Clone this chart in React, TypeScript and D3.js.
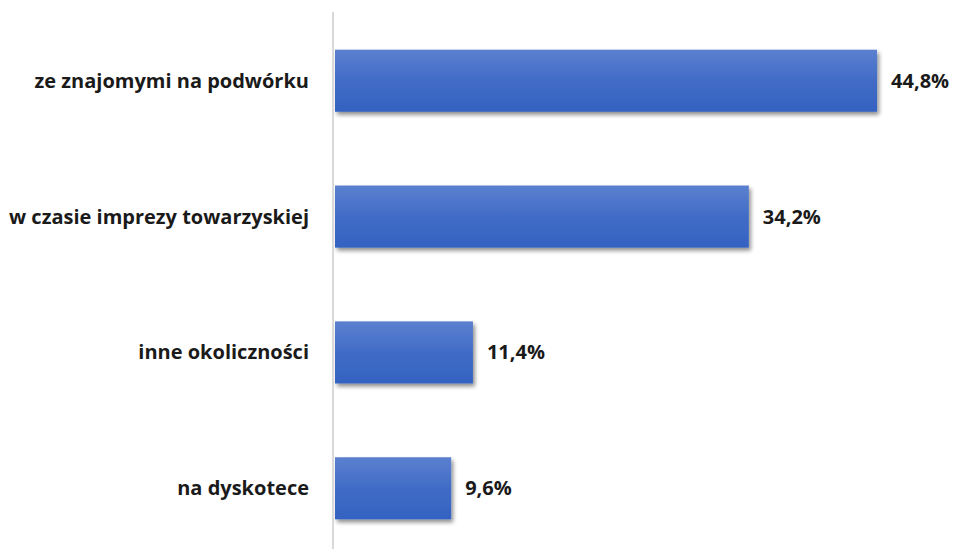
import React from "react";
import * as d3 from "d3";

const categories = [
  "ze znajomymi na podwórku",
  "w czasie imprezy towarzyskiej",
  "inne okoliczności",
  "na dyskotece",
];
const values = [44.8, 34.2, 11.4, 9.6];
const valueLabels = ["44,8%", "34,2%", "11,4%", "9,6%"];

const W = 955;
const H = 549;

export default function App() {
  const x = d3.scaleLinear().domain([0, 50]).range([335, 940]);
  const y = d3
    .scaleBand<string>()
    .domain(categories)
    .range([13, 556])
    .paddingInner(0.543)
    .paddingOuter(0.27);
  const font = "'Open Sans', 'Noto Sans', sans-serif";
  return (
    <svg
      width={W}
      height={H}
      style={{ position: "absolute", left: 0, top: 0, background: "#fff" }}
    >
      <defs>
        <linearGradient id="barGrad" x1="0" y1="0" x2="0" y2="1">
          <stop offset="0%" stopColor="#5b80cf" />
          <stop offset="50%" stopColor="#416cc6" />
          <stop offset="100%" stopColor="#3462c1" />
        </linearGradient>
        <filter id="shadow" x="-5%" y="-10%" width="115%" height="140%">
          <feGaussianBlur in="SourceAlpha" stdDeviation="2" />
          <feOffset dx="2" dy="3" result="ob" />
          <feComponentTransfer>
            <feFuncA type="linear" slope="0.45" />
          </feComponentTransfer>
          <feMerge>
            <feMergeNode />
            <feMergeNode in="SourceGraphic" />
          </feMerge>
        </filter>
      </defs>
      <rect x={0} y={0} width={W} height={H} fill="#fff" />
      {categories.map((c, i) => {
        const y0 = y(c)!;
        const bw = y.bandwidth();
        return (
          <g key={c}>
            <rect
              x={x(0)}
              y={y0}
              width={x(values[i]) - x(0)}
              height={bw}
              fill="url(#barGrad)"
              filter="url(#shadow)"
            />
            <text
              x={309}
              y={y0 + bw / 2}
              dy="0.35em"
              textAnchor="end"
              fontFamily={font}
              fontWeight={700}
              fontSize={20}
              fill="#1a1a1a"
            >
              {c}
            </text>
            <text
              x={x(values[i]) + 14}
              y={y0 + bw / 2}
              dy="0.35em"
              textAnchor="start"
              fontFamily={font}
              fontWeight={700}
              fontSize={20}
              fill="#1a1a1a"
            >
              {valueLabels[i]}
            </text>
          </g>
        );
      })}
      <line
        x1={x(0) - 2}
        x2={x(0) - 2}
        y1={12}
        y2={H}
        stroke="#d9d9d9"
        strokeWidth={2}
      />
    </svg>
  );
}
